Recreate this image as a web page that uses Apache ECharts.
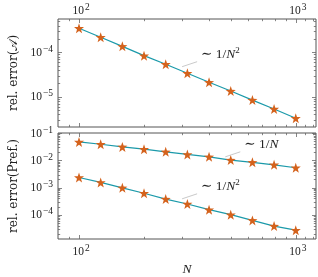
<!DOCTYPE html>
<html><head><meta charset="utf-8">
<script src="https://cdn.jsdelivr.net/npm/echarts@6/dist/echarts.min.js"></script>
<style>html,body{margin:0;padding:0;background:#fff}#c{width:318px;height:277px}</style>
</head><body><div id="c"></div>
<script>
// ---- data ----
const N = [100, 125.9, 158.5, 199.5, 251.2, 316.2, 398.1, 501.2, 631.0, 794.3, 1000];
const errA = [3.48e-4, 2.18e-4, 1.36e-4, 8.4e-5, 5.4e-5, 3.37e-5, 2.11e-5, 1.34e-5, 8.4e-6, 5.3e-6, 3.27e-6];
const errPrefLin = [4.71e-2, 3.88e-2, 3.10e-2, 2.55e-2, 2.04e-2, 1.64e-2, 1.34e-2, 1.02e-2, 8.4e-3, 6.85e-3, 5.33e-3];
const errPrefQuad = [2.34e-3, 1.55e-3, 9.8e-4, 6.2e-4, 3.8e-4, 2.5e-4, 1.55e-4, 1.02e-4, 6.3e-5, 3.9e-5, 2.75e-5];

// ---- axes / ticks ----
const xRange = [80, 1240];
const yTopRange = [2.08e-6, 5.62e-4];
const yBotRange = [1.31e-5, 1e-1];
const xMajorTicks = [100, 1000];
const xMinorTicks = [90, 200, 300, 400, 500, 600, 700, 800, 900, 1100, 1200];
const yTopMajorTicks = [1e-5, 1e-4];
const yTopMinorTicks = [3e-6, 4e-6, 5e-6, 6e-6, 7e-6, 8e-6, 9e-6, 2e-5, 3e-5, 4e-5, 5e-5, 6e-5, 7e-5, 8e-5, 9e-5, 2e-4, 3e-4, 4e-4, 5e-4];
const yBotMajorTicks = [1e-4, 1e-3, 1e-2, 1e-1];
const yBotMinorTicks = [2e-5, 3e-5, 4e-5, 5e-5, 6e-5, 7e-5, 8e-5, 9e-5, 2e-4, 3e-4, 4e-4, 5e-4, 6e-4, 7e-4, 8e-4, 9e-4, 2e-3, 3e-3, 4e-3, 5e-3, 6e-3, 7e-3, 8e-3, 9e-3, 2e-2, 3e-2, 4e-2, 5e-2, 6e-2, 7e-2, 8e-2, 9e-2];

// ---- annotations: anchor (N, value) and exponent ----
const annTop = [[299, 4.74e-5, '2']];
const annBot = [[473, 1.34e-2, ''], [299, 3.88e-4, '2']];

const F = 'Liberation Serif, DejaVu Serif, serif';
const FT = 'DejaVu Serif, Liberation Serif, serif';
const TXT = '#222';
const TEAL = '#1b9aaa';
const ORANGE = '#d4621c';
const STAR = 'path://M100 0 L123.5 67.6 L195.1 69.1 L138 112.4 L158.8 180.9 L100 140 L41.2 180.9 L62 112.4 L4.9 69.1 L76.5 67.6 Z';

const richNum = {
  b: {fontFamily: F, fontSize: 11.5, lineHeight: 17, fill: TXT, color: TXT},
  s: {fontFamily: F, fontSize: 9.5, lineHeight: 10, verticalAlign: 'top', padding: [0, 0, 0, 1], fill: TXT, color: TXT}
};
function pow10Text(v) {
  const e = Math.round(Math.log10(v));
  return '{b|10}{s|' + (e < 0 ? '\u2212' + (-e) : e) + '}';
}

function xTickSeries(grid, yRef, labelPos) {
  const data = xMajorTicks.map(v => [v, yRef, 1]).concat(xMinorTicks.map(v => [v, yRef, 0]));
  return {
    type: 'custom', xAxisIndex: grid, yAxisIndex: grid, silent: true, z: 1, clip: false,
    data: data,
    renderItem: function (params, api) {
      const p = api.coord([api.value(0), api.value(1)]);
      const r = params.coordSys;
      const major = api.value(2) === 1;
      const len = major ? 4 : 2.2;
      const x = Math.round(p[0]) + 0.5;
      const st = {stroke: '#666', lineWidth: 0.8};
      const ch = [
        {type: 'line', shape: {x1: x, y1: r.y, x2: x, y2: r.y + len}, style: st},
        {type: 'line', shape: {x1: x, y1: r.y + r.height, x2: x, y2: r.y + r.height - len}, style: st}
      ];
      if (major) {
        const ly = labelPos === 'top' ? r.y - 8 : r.y + r.height + 13;
        ch.push({type: 'text', x: p[0] + 2, y: ly, style: {text: pow10Text(api.value(0)), rich: richNum, align: 'center', verticalAlign: 'middle', textAlign: 'center', textVerticalAlign: 'middle'}});
      }
      return {type: 'group', children: ch};
    }
  };
}

function yTickSeries(grid, majors, minors) {
  const data = majors.map(v => [200, v, 1]).concat(minors.map(v => [200, v, 0]));
  return {
    type: 'custom', xAxisIndex: grid, yAxisIndex: grid, silent: true, z: 1, clip: false,
    data: data,
    renderItem: function (params, api) {
      const p = api.coord([api.value(0), api.value(1)]);
      const r = params.coordSys;
      const major = api.value(2) === 1;
      const len = major ? 4 : 2.2;
      const y = Math.round(p[1]) + 0.5;
      const st = {stroke: '#666', lineWidth: 0.8};
      const ch = [
        {type: 'line', shape: {x1: r.x, y1: y, x2: r.x + len, y2: y}, style: st},
        {type: 'line', shape: {x1: r.x + r.width, y1: y, x2: r.x + r.width - len, y2: y}, style: st}
      ];
      if (major) {
        ch.push({type: 'text', x: r.x - 5, y: p[1] + 0.5, style: {text: pow10Text(api.value(1)), rich: richNum, align: 'right', verticalAlign: 'middle', textAlign: 'right', textVerticalAlign: 'middle'}});
      }
      return {type: 'group', children: ch};
    }
  };
}

const richAnn = {
  r: {fontFamily: F, fontSize: 13.5, lineHeight: 18, fill: TXT, color: TXT},
  i: {fontFamily: F, fontSize: 13.5, lineHeight: 18, fontStyle: 'italic', fill: TXT, color: TXT},
  s: {fontFamily: F, fontSize: 9, lineHeight: 9, verticalAlign: 'top', fill: TXT, color: TXT}
};
function annSeries(grid, data) {
  return {
    type: 'custom', xAxisIndex: grid, yAxisIndex: grid, silent: true, z: 5, clip: false,
    data: data,
    renderItem: function (params, api) {
      const p = api.coord([api.value(0), api.value(1)]);
      const ex = data[params.dataIndex][2];
      const txt = '{r|\u223C 1/}{i|N}' + (ex ? '{s|' + ex + '}' : '');
      return {type: 'group', children: [
        {type: 'line', shape: {x1: p[0], y1: p[1], x2: p[0] + 15, y2: p[1] - 5}, style: {stroke: '#bbb', lineWidth: 0.8}},
        {type: 'text', x: p[0] + 19, y: p[1] - 12, style: {text: txt, rich: richAnn, align: 'left', verticalAlign: 'middle', textAlign: 'left', textVerticalAlign: 'middle'}}
      ]};
    }
  };
}

function lineSeries(grid, ys) {
  return {
    type: 'line', xAxisIndex: grid, yAxisIndex: grid, z: 3,
    data: N.map((n, i) => [n, ys[i]]),
    symbol: STAR, symbolSize: 10, showSymbol: true,
    lineStyle: {color: TEAL, width: 1.2},
    itemStyle: {color: ORANGE, borderWidth: 0},
    animation: false
  };
}

const axisOff = {axisLine: {show: false}, axisTick: {show: false}, axisLabel: {show: false}, splitLine: {show: false}};
const chart = echarts.init(document.getElementById('c'), null, {renderer: 'canvas'});
chart.setOption({
  animation: false,
  backgroundColor: '#fff',
  grid: [
    {left: 57, top: 19, width: 259, height: 108, show: true, borderColor: '#555', borderWidth: 1, backgroundColor: 'transparent'},
    {left: 57, top: 133, width: 259, height: 107, show: true, borderColor: '#555', borderWidth: 1, backgroundColor: 'transparent'}
  ],
  xAxis: [
    Object.assign({type: 'log', gridIndex: 0, min: xRange[0], max: xRange[1]}, axisOff),
    Object.assign({type: 'log', gridIndex: 1, min: xRange[0], max: xRange[1], name: 'N', nameLocation: 'middle', nameGap: 23,
      nameTextStyle: {fontFamily: F, fontSize: 13.5, fontStyle: 'italic', color: TXT}}, axisOff)
  ],
  yAxis: [
    Object.assign({type: 'log', gridIndex: 0, min: yTopRange[0], max: yTopRange[1], name: 'rel. error(\uD835\uDC9C)', nameLocation: 'middle', nameGap: 38, nameRotate: 90,
      nameTextStyle: {fontFamily: FT, fontSize: 12, color: TXT}}, axisOff),
    Object.assign({type: 'log', gridIndex: 1, min: yBotRange[0], max: yBotRange[1], name: 'rel. error(Pref.)', nameLocation: 'middle', nameGap: 38, nameRotate: 90,
      nameTextStyle: {fontFamily: FT, fontSize: 12, color: TXT}}, axisOff)
  ],
  series: [
    lineSeries(0, errA),
    lineSeries(1, errPrefLin),
    lineSeries(1, errPrefQuad),
    xTickSeries(0, 1e-5, 'top'),
    xTickSeries(1, 1e-3, 'bottom'),
    yTickSeries(0, yTopMajorTicks, yTopMinorTicks),
    yTickSeries(1, yBotMajorTicks, yBotMinorTicks),
    annSeries(0, annTop),
    annSeries(1, annBot)
  ]
});
</script></body></html>
